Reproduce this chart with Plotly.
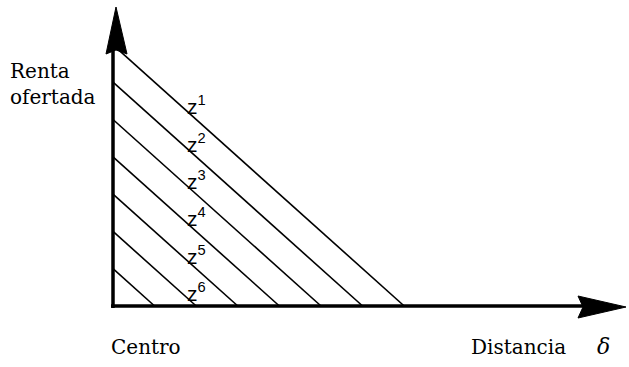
import plotly.graph_objects as go

# Bid-rent lines: each line runs from its rent intercept on the vertical axis
# down to its distance intercept on the horizontal axis.
rent_intercepts = [7, 6, 5, 4, 3, 2, 1]
distance_intercepts = [7, 6, 5, 4, 3, 2, 1]
zone_labels = ["1", "2", "3", "4", "5", "6"]   # z^1 .. z^6, top line first

# Figure geometry (pixels per data unit and origin position)
W, H = 629, 367
PX_X, PX_Y = 41.6, 37.3
ORIGIN_X, ORIGIN_Y = 113, 306   # pixel position of the origin

x_range = [-ORIGIN_X / PX_X, (W - ORIGIN_X) / PX_X]
y_range = [-(H - ORIGIN_Y) / PX_Y, ORIGIN_Y / PX_Y]


def px_to_x(px):
    return (px - ORIGIN_X) / PX_X


def px_to_y(py):
    return (ORIGIN_Y - py) / PX_Y


fig = go.Figure()

xs, ys = [], []
for r0, d0 in zip(rent_intercepts, distance_intercepts):
    xs += [0, d0, None]
    ys += [r0, 0, None]
fig.add_trace(go.Scatter(x=xs, y=ys, mode="lines",
                         line=dict(color="black", width=1.6),
                         hoverinfo="skip", showlegend=False))

# Axes with arrowheads
axis_line = dict(color="black", width=3.5)
fig.add_shape(type="line", x0=px_to_x(111), y0=0, x1=px_to_x(585), y1=0,
              line=axis_line)
fig.add_shape(type="line", x0=0, y0=px_to_y(308), x1=0, y1=px_to_y(48),
              line=axis_line)


def tri(pts):
    p = "M " + " L ".join(f"{px_to_x(a)},{px_to_y(b)}" for a, b in pts) + " Z"
    return p


fig.add_shape(type="path", path=tri([(116, 7), (106, 54), (116, 50), (127, 54)]),
              fillcolor="black", line=dict(color="black", width=1))
fig.add_shape(type="path", path=tri([(626, 307), (578, 296), (583, 307), (578, 318)]),
              fillcolor="black", line=dict(color="black", width=1))

# Zone labels placed on each line, just right of it
label_d = 1.7
for lab, r0 in zip(zone_labels, rent_intercepts[:len(zone_labels)]):
    fig.add_annotation(x=label_d, y=r0 - label_d, xref="x", yref="y",
                       text=f"z<sup>{lab}</sup>", showarrow=False,
                       xanchor="left", yanchor="middle", xshift=1, yshift=3,
                       font=dict(family="Liberation Sans", size=21, color="black"))

serif = dict(family="DejaVu Serif", size=20, color="black")
fig.add_annotation(x=8 / W, y=1 - 84 / H, xref="paper", yref="paper",
                   text="Renta<br>ofertada", showarrow=False, align="left",
                   xanchor="left", yanchor="middle", font=serif)
fig.add_annotation(x=146 / W, y=1 - 347 / H, xref="paper", yref="paper",
                   text="Centro", showarrow=False, xanchor="center",
                   yanchor="middle", font=serif)
fig.add_annotation(x=518 / W, y=1 - 347 / H, xref="paper", yref="paper",
                   text="Distancia", showarrow=False, xanchor="center",
                   yanchor="middle", font=serif)
fig.add_annotation(x=603 / W, y=1 - 346 / H, xref="paper", yref="paper",
                   text="<i>δ</i>", showarrow=False, xanchor="center",
                   yanchor="middle",
                   font=dict(family="DejaVu Serif", size=22, color="black"))

fig.update_layout(
    width=W, height=H,
    margin=dict(l=0, r=0, t=0, b=0),
    paper_bgcolor="white", plot_bgcolor="white",
    xaxis=dict(range=x_range, visible=False, fixedrange=True),
    yaxis=dict(range=y_range, visible=False, fixedrange=True),
)

fig.write_html("out.html")
